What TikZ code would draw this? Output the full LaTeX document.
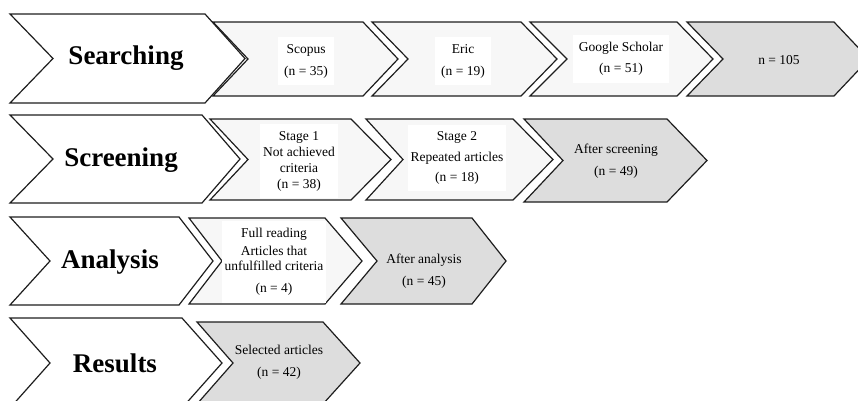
\documentclass[tikz,border=0pt]{standalone}
\usepackage{fontspec}
\setmainfont{Liberation Serif}
\definecolor{lightbody}{HTML}{F7F7F7}
\definecolor{graybody}{HTML}{DDDDDD}
\definecolor{edge}{HTML}{1E1E1E}
\newcommand\chevshape[7]{% fill, L, notch, R, tip, T, B
  \filldraw[chev, fill=#1] (#2,#6) -- (#4,#6) -- (#5,{(#6+#7)/2}) -- (#4,#7) -- (#2,#7) -- (#3,{(#6+#7)/2}) -- cycle;}
\tikzset{
  chev/.style={draw=edge, line width=1.2pt, line join=miter},
  biglabel/.style={font=\fontsize{27}{30}\selectfont\bfseries, text=black, inner sep=0pt},
  whitelabel/.style={font=\fontsize{13.5}{16}\selectfont, align=center, fill=white, inner xsep=6pt, inner ysep=7pt},
  graylabel/.style={font=\fontsize{13.5}{16}\selectfont, align=center, inner sep=2pt},
}
\begin{document}
\begin{tikzpicture}[x=1pt,y=-1pt]
\useasboundingbox (0,0) rectangle (858,400);
\clip (0,0) rectangle (858,400);
% Row 1
\chevshape{white}{10}{53}{205}{245}{14}{103}
\chevshape{lightbody}{213}{248}{363}{398}{22}{96}
\chevshape{lightbody}{372}{408}{521}{557}{22}{96}
\chevshape{lightbody}{530}{567}{677}{713}{22}{96}
\chevshape{graybody}{687}{723}{834}{869}{22}{96}
\node[biglabel] (searching) at (126,58) {Searching};
\node[whitelabel] (scopus) at (306,61) {Scopus\\[6pt](n = 35)};
\node[whitelabel] (eric) at (463,61) {Eric\\[6pt](n = 19)};
\node[whitelabel] (google) at (621,59) {Google Scholar\\[5pt](n = 51)};
\node[graylabel] (total) at (779,60) {n = 105};
% Row 2
\chevshape{white}{10}{53}{202}{240}{115}{203}
\chevshape{lightbody}{210}{248}{351}{391}{119}{200}
\chevshape{lightbody}{366}{403}{513}{553}{119}{200}
\chevshape{graybody}{524}{563}{667}{707}{119}{202}
\node[biglabel] (screening) at (121,160) {Screening};
\node[whitelabel, inner xsep=3pt] (stage1) at (299,161) {Stage 1\\Not achieved\\criteria\\(n = 38)};
\node[whitelabel, inner xsep=3pt] (stage2) at (457,158) {Stage 2\\[4.5pt]Repeated articles\\[4.5pt](n = 18)};
\node[graylabel] (afterscreen) at (616,161) {After screening\\[6pt](n = 49)};
% Row 3
\chevshape{white}{10}{50}{179}{213}{217}{305}
\chevshape{lightbody}{189}{222}{325}{362}{218}{304}
\chevshape{graybody}{341}{377}{472}{506}{218}{304}
\node[biglabel] (analysis) at (110,262) {Analysis};
\node[whitelabel, inner xsep=3pt] (fullread) at (274,262) {Full reading\\[2pt]Articles that\\[-1pt]unfulfilled criteria\\[6pt](n = 4)};
\node[graylabel] (afteranalysis) at (424,271) {After analysis\\[6pt](n = 45)};
% Row 4
\chevshape{white}{10}{50}{182}{222}{318}{408}
\chevshape{graybody}{197}{233}{323}{360}{322}{404}
\node[biglabel] (results) at (115,363) {Results};
\node[graylabel] (selected) at (279,362) {Selected articles\\[6pt](n = 42)};
\end{tikzpicture}
\end{document}
